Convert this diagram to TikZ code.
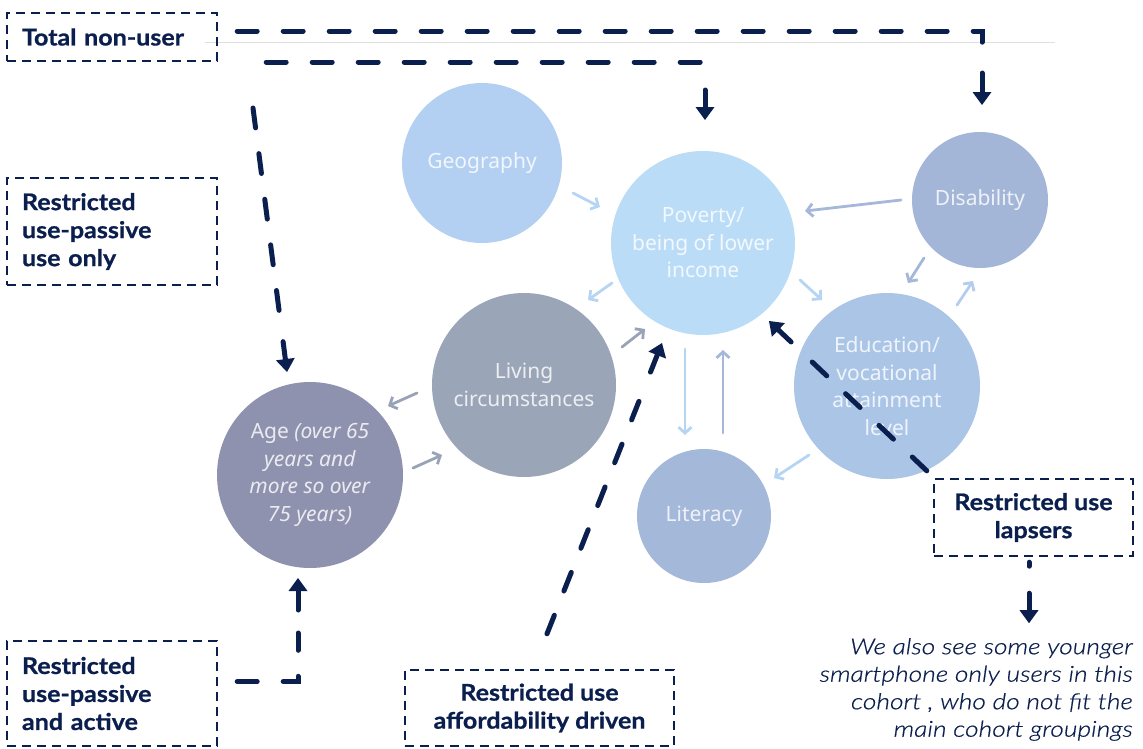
\documentclass[tikz,border=0pt]{standalone}
\usepackage{fontspec}
\setmainfont{Lato}
\newfontfamily\circfont{Noto Sans}
\newfontfamily\boxfont{Lato}[UprightFont=* Bold, FakeStretch=1.09, FakeBold=0.8]
\newfontfamily\notefont{Lato}[UprightFont=* Light Italic, FakeStretch=1.2, FakeBold=0.6]
\usetikzlibrary{arrows.meta,calc}
\definecolor{navy}{HTML}{0B1F4E}
\definecolor{cgeo}{HTML}{B3CFF1}
\definecolor{cpov}{HTML}{BADCF6}
\definecolor{cdis}{HTML}{A3B6D8}
\definecolor{cliv}{HTML}{9AA5B8}
\definecolor{cage}{HTML}{8F92AE}
\definecolor{cedu}{HTML}{ABC5E7}
\definecolor{clit}{HTML}{A4B8DA}
\definecolor{aLight}{HTML}{B5D5F3}
\definecolor{aPale}{HTML}{B3CDEE}
\definecolor{aMid}{HTML}{A5B8DA}
\definecolor{aGray}{HTML}{9AA2B8}
\begin{document}
\begin{tikzpicture}[x=1pt,y=-1pt,
  factor/.style={circle, inner sep=0pt, outer sep=0pt, align=center, text=white, text opacity=0.82,
    font=\circfont\fontsize{21}{27.5}\selectfont},
  cohort/.style={draw=navy, line width=2.4pt, dash pattern=on 9pt off 6pt, text=navy,
    font=\boxfont\fontsize{23}{28}\selectfont, inner sep=0pt, align=center},
  conn/.style={navy, line width=5pt, line cap=round, dash pattern=on 20pt off 26pt},
  tipline/.style={navy, line width=5pt, line cap=round, -{Triangle[length=13pt,width=19pt,line width=0pt]}},
  influence/.style={line width=2.8pt, line cap=round, -{Straight Barb[length=6pt,width=13pt]}},
]
\useasboundingbox (0,0) rectangle (1143,748);

% thin rule
\draw[black!12, line width=0.8pt] (205,42) -- (1055,42);

% factor circles
\node[factor, fill=cgeo, minimum size=160pt] (geo) at (482,163) {Geography};
\node[factor, fill=cpov, minimum size=184pt] (pov) at (703,243) {Poverty/\\being of lower\\income};
\node[factor, fill=cdis, minimum size=136pt] (dis) at (980,200) {Disability};
\node[factor, fill=cliv, minimum size=184pt] (liv) at (524,385) {Living\\circumstances};
\node[factor, fill=cage, minimum size=186pt] (age) at (310,475) {Age \textit{(over 65}\\\textit{years and}\\\textit{more so over}\\\textit{75 years)}};
\node[factor, fill=cedu, minimum size=186pt] (edu) at (887,386) {Education/\\vocational\\attainment\\level};
\node[factor, fill=clit, minimum size=134pt] (lit) at (704,516) {Literacy};

% influence arrows
\draw[influence, aLight] ($(geo.center)+(91,30)$) -- ($(pov.center)+(-103,-36)$);
\draw[influence, aLight] ($(pov.center)+(-91,40)$) -- ($(liv.center)+(64,-85)$);
\draw[influence, aGray]  ($(liv.center)+(98,-38)$) -- ($(pov.center)+(-58,86)$);
\draw[influence, aMid]   ($(dis.center)+(-79,0)$) -- ($(pov.center)+(102,-32)$);
\draw[influence, aMid]   ($(dis.center)+(-56,58)$) -- ($(edu.center)+(21,-103)$);
\draw[influence, aPale]  ($(edu.center)+(70,-81)$) -- ($(dis.center)+(-7,81)$);
\draw[influence, aLight] ($(pov.center)+(97,37)$) -- ($(edu.center)+(-65,-86)$);
\draw[influence, aLight] ($(pov.center)+(-18,106)$) -- ($(lit.center)+(-19,-81)$);
\draw[influence, aMid]   ($(lit.center)+(19,-83)$) -- ($(pov.center)+(20,107)$);
\draw[influence, aLight] ($(edu.center)+(-78,69)$) -- ($(lit.center)+(70,-38)$);
\draw[influence, aGray]  ($(liv.center)+(-107,8)$) -- ($(age.center)+(78,-69)$);
\draw[influence, aGray]  ($(age.center)+(103,-7)$) -- ($(liv.center)+(-82,70)$);

% cohort boxes
\node[cohort, minimum width=210pt, minimum height=48pt, text width=180pt, align=left] (tnu) at (112,37) {Total non-user};
\node[cohort, minimum width=210pt, minimum height=107pt, text width=180pt, align=left] (pas) at (112,231.5) {Restricted\\use-passive\\use only};
\node[cohort, minimum width=210pt, minimum height=105pt, text width=180pt, align=left] (act) at (112,693.5) {Restricted\\use-passive\\and active};
\node[cohort, minimum width=269pt, minimum height=76pt] (aff) at (539.5,708) {Restricted use\\affordability driven};
\node[cohort, minimum width=199pt, minimum height=77pt] (lap) at (1033.5,517.5) {Restricted use\\lapsers};

\node[font=\notefont\fontsize{22}{27.5}\selectfont, text=navy, align=right, anchor=north east, inner sep=0pt] (note) at (1133,638)
  {We also see some younger\\smartphone only users in this\\cohort , who do not fit the\\main cohort groupings};

% cohort connectors
\draw[conn] ($(tnu.east)+(19,-6)$) -| ($(dis.north)+(2,-82)$);
\draw[tipline] ($(dis.north)+(2,-59)$) -- ($(dis.north)+(2,-27)$);

\draw[conn] ($(tnu.east)+(48,25)$) -| ($(pov.north)+(2,-84)$);
\draw[tipline] ($(pov.north)+(2,-61)$) -- ($(pov.north)+(2,-31)$);

\coordinate (s3) at (253,108);
\coordinate (e3) at ($(age.north)+(-23,-10)$);
\draw[conn] (s3) -- ($(s3)!0.80!(e3)$);
\draw[tipline] ($(s3)!0.885!(e3)$) -- (e3);

\draw[conn] ($(act.east)+(19,-12)$) -| ($(age.south)+(-12,65)$);
\draw[tipline] ($(age.south)+(-12,42)$) -- ($(age.south)+(-12,10)$);

\coordinate (s5) at ($(aff.north)+(7.5,-35)$);
\coordinate (e5) at ($(pov.center)+(-41,100)$);
\draw[conn] (s5) -- ($(s5)!0.82!(e5)$);
\draw[tipline] ($(s5)!0.90!(e5)$) -- (e5);

\coordinate (s6) at ($(lap.north west)+(-6,-7)$);
\coordinate (e6) at ($(pov.center)+(66,78)$);
\draw[conn] (s6) -- ($(s6)!0.76!(e6)$);
\draw[tipline] ($(s6)!0.86!(e6)$) -- (e6);

\draw[conn] ($(lap.south)+(-4.5,5)$) -- ($(lap.south)+(-4.5,9)$);
\draw[tipline] ($(lap.south)+(-4.5,36)$) -- ($(lap.south)+(-4.5,66)$);
\end{tikzpicture}
\end{document}
